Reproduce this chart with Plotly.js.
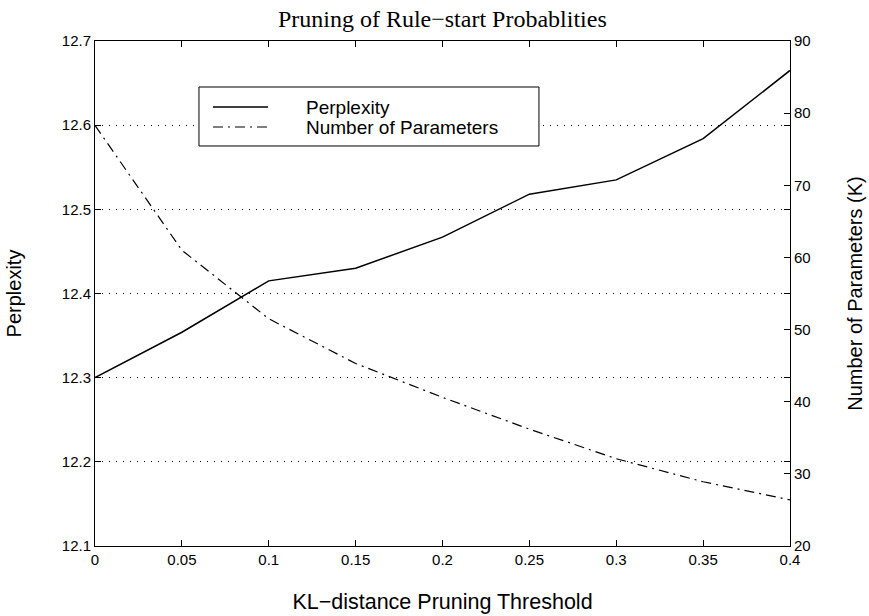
<!DOCTYPE html>
<html>
<head>
<meta charset="utf-8">
<script src="https://cdn.plot.ly/plotly-3.0.1.min.js"></script>
<style>html,body{margin:0;padding:0;background:#fff;}#chart{width:869px;height:616px;}</style>
</head>
<body>
<div id="chart"></div>
<script>
const thresholds = [0, 0.05, 0.1, 0.15, 0.2, 0.25, 0.3, 0.35, 0.4];
const perplexity = [12.30, 12.354, 12.415, 12.43, 12.467, 12.518, 12.535, 12.584, 12.665];
const numParams = [78.3, 61.0, 51.5, 45.3, 40.6, 36.2, 32.1, 28.9, 26.4];

const titleText = "Pruning of Rule\u2212start Probablities";
const xTitle = "KL\u2212distance Pruning Threshold";
const yTitle = "Perplexity";
const y2Title = "Number of Parameters (K)";
const seriesNames = ["Perplexity", "Number of Parameters"];

const sans = "Liberation Sans, Arial, Helvetica, sans-serif";
const serif = "Liberation Serif, Times New Roman, serif";

const solidStyle = {color: "#000", width: 1.5};
const dashStyle = {color: "#000", width: 1.2, dash: "10px,5px,2px,5px"};

const traces = [
  {
    x: thresholds, y: perplexity, name: seriesNames[0], type: "scatter", mode: "lines",
    line: solidStyle, yaxis: "y", showlegend: false
  },
  {
    x: thresholds, y: numParams, name: seriesNames[1], type: "scatter", mode: "lines",
    line: dashStyle, yaxis: "y2", showlegend: false
  }
];

// Legend box drawn in paper coordinates
const leg = {x0: 0.1496, x1: 0.6388, y0: 0.7921, y1: 0.9089, sx0: 0.1698, sx1: 0.2489, tx: 0.3007, rows: [0.8693, 0.8297]};

const shapes = [
  {type: "rect", xref: "paper", yref: "paper", x0: leg.x0, x1: leg.x1, y0: leg.y0, y1: leg.y1,
   line: {color: "#000", width: 1}, fillcolor: "#fff", layer: "above"},
  {type: "line", xref: "paper", yref: "paper", x0: leg.sx0, x1: leg.sx1, y0: leg.rows[0], y1: leg.rows[0],
   line: solidStyle, layer: "above"},
  {type: "line", xref: "paper", yref: "paper", x0: leg.sx0, x1: leg.sx1, y0: leg.rows[1], y1: leg.rows[1],
   line: dashStyle, layer: "above"}
];

const annotations = seriesNames.map((n, i) => ({
  text: n, xref: "paper", yref: "paper", x: leg.tx, y: leg.rows[i],
  xanchor: "left", yanchor: "middle", showarrow: false,
  font: {family: sans, size: 19, color: "#000"}
}));

const layout = {
  width: 869, height: 616,
  paper_bgcolor: "#fff", plot_bgcolor: "#fff",
  margin: {l: 95, r: 79, t: 41, b: 70, pad: 0},
  font: {family: sans, size: 15, color: "#000"},
  title: {text: titleText, font: {family: serif, size: 24, color: "#000"}, x: 0.509, xanchor: "center", y: 0.97, yanchor: "middle"},
  showlegend: false,
  shapes: shapes,
  annotations: annotations,
  xaxis: {
    range: [0, 0.4], dtick: 0.05, tick0: 0,
    ticks: "inside", ticklen: 6, tickcolor: "#000", mirror: "ticks",
    showline: true, linecolor: "#000", linewidth: 1,
    showgrid: false, zeroline: false,
    tickfont: {family: sans, size: 15, color: "#000"},
    title: {text: xTitle, font: {family: sans, size: 21.5, color: "#000"}, standoff: 26}
  },
  yaxis: {
    range: [12.1, 12.7], dtick: 0.1, tick0: 12.1, tickformat: ".1f",
    ticks: "inside", ticklen: 6, tickcolor: "#000", mirror: "ticks",
    showline: true, linecolor: "#000", linewidth: 1,
    showgrid: true, gridcolor: "#000", gridwidth: 1, griddash: "1px,6px",
    zeroline: false,
    tickfont: {family: sans, size: 15, color: "#000"},
    title: {text: yTitle, font: {family: sans, size: 20, color: "#000"}, standoff: 34}
  },
  yaxis2: {
    range: [20, 90], dtick: 10, tick0: 20,
    overlaying: "y", side: "right",
    ticks: "inside", ticklen: 6, tickcolor: "#000",
    showline: true, linecolor: "#000", linewidth: 1,
    showgrid: false, zeroline: false,
    tickfont: {family: sans, size: 15, color: "#000"},
    title: {text: y2Title, font: {family: sans, size: 20, color: "#000"}, standoff: 38}
  }
};

Plotly.newPlot("chart", traces, layout, {staticPlot: true, displayModeBar: false});
</script>
</body>
</html>
